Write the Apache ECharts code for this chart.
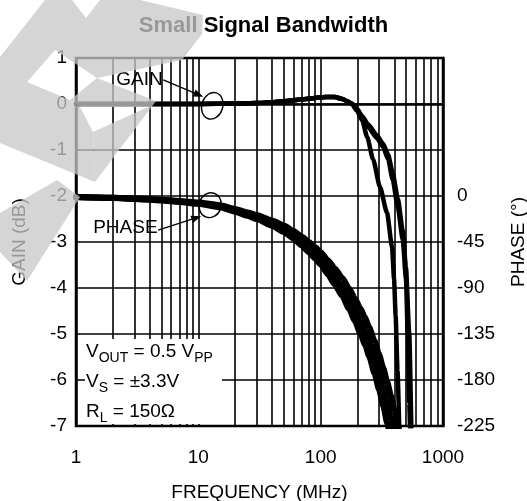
<!DOCTYPE html>
<html><head><meta charset="utf-8">
<script src="https://cdn.jsdelivr.net/npm/echarts@6/dist/echarts.min.js"></script>
<style>html,body{margin:0;padding:0;background:#fff}#c{width:527px;height:501px}</style>
</head><body><div id="c"></div>
<script>
// ---- data ----
const xTickLabels = ['1', '10', '100', '1000'];
const minorFreqs = [2,3,4,5,6,7,8,9,20,30,40,50,60,70,80,90,200,300,400,500,600,700,800,900];
const gainAFreqs = [1,2,5,10,20,30,40,50,70,90,110,130,150,165,180,198,218,240,268,305,349,383,398,410,425,440];
const gainA      = [0,0,0,0,0.01,0.02,0.04,0.06,0.1,0.13,0.15,0.15,0.11,0.06,0,-0.15,-0.35,-0.72,-1.2,-1.8,-2.37,-3.1,-3.8,-4.6,-5.8,-7.2];
const gainBFreqs = [1,2,5,10,20,30,40,50,70,90,110,130,150,165,180,198,218,244,288,323,356,388,427,469,498,515,530,545];
const gainB      = [0,0,0,0,0.01,0.02,0.04,0.06,0.1,0.13,0.15,0.15,0.11,0.06,0,-0.13,-0.3,-0.5,-0.74,-0.93,-1.2,-1.65,-2.24,-2.96,-3.8,-5.0,-6.5,-7.8];
const gainCFreqs = [1,2,5,10,20,30,40,50,70,90,110,130,150,165,180,198,218,244,288,323,356,388,427,469,498,530,555,580];
const gainC      = [0,0,0,0,0.01,0.02,0.04,0.06,0.1,0.13,0.15,0.15,0.11,0.06,0.01,-0.1,-0.26,-0.44,-0.68,-0.86,-1.1,-1.5,-2.05,-2.75,-3.55,-5.0,-7.2,-9];
const phaseFreqs = [1,2,3,5,7,10,15,20,25,30,40,50,60,70,80,90,100,115,130,150,170,190,210,230,250,275,300,325,350,375,400,425,450,475,500];
const phaseHi  = [-1,-1.6,-2.3,-3.6,-4.8,-6.3,-9,-12.6,-15.8,-18.5,-23.9,-28.8,-34.2,-39.6,-45,-50,-55,-63,-70.6,-80,-90,-100,-109.4,-118.8,-128.7,-141.7,-154.8,-168.3,-181.8,-195.3,-208.8,-222.3,-235.8,-249.3,-262.8];
const phaseMid = [-1,-1.8,-2.6,-4,-5.3,-7,-10,-14,-17.5,-20.5,-26.5,-32,-38,-44,-50,-55.5,-61,-70,-78.5,-89,-100,-111,-121.5,-132,-143,-157.5,-172,-187,-202,-217,-232,-247,-262,-277,-292];
const phaseLo  = [-1,-2,-2.9,-4.4,-5.8,-7.7,-11,-15.4,-19.3,-22.6,-29.2,-35.2,-41.8,-48.4,-55,-61,-67,-77,-86.4,-98,-110,-122,-133.7,-145.2,-157.3,-173.3,-189.2,-205.7,-222.2,-238.7,-255.2,-271.7,-288.2,-304.7,-321.2];
const gainMarkerAt = [13, -0.04];
const phaseMarkerAt = [12.5, -2.2];
const conditionLines = [
  [['V', false], ['OUT', true], [' = 0.5 V', false], ['PP', true]],
  [['V', false], ['S', true], [' = \u00b13.3V', false]],
  [['R', false], ['L', true], [' = 150\u03a9', false]]
];

// ---- chart ----
const FONT = '"Liberation Sans", Arial, Helvetica, sans-serif';
const zip = (xs, ys) => xs.map((x, i) => [x, ys[i]]);
const curve = (name, xs, ys, yAxisIndex, w) => ({
  name, type: 'line', yAxisIndex, data: zip(xs, ys), showSymbol: false, symbol: 'none',
  smooth: 0.2, smoothMonotone: 'x', clip: true, z: 3, silent: true,
  lineStyle: { color: '#000', width: w, cap: 'round', join: 'round' }, animation: false
});
const chart = echarts.init(document.getElementById('c'), null, { renderer: 'canvas' });
const labelStyle = { fontFamily: FONT, fontSize: 19, color: '#000' };
chart.setOption({
  animation: false,
  backgroundColor: '#fff',
  title: { text: 'Small Signal Bandwidth', left: 'center', top: 15, padding: 0,
    textStyle: { fontFamily: FONT, fontSize: 22, fontWeight: 'bold', color: '#000' } },
  grid: { left: 76, right: 84, top: 58, bottom: 75, outerBoundsMode: 'none', containLabel: false,
    show: true, borderColor: '#000', borderWidth: 2.5, backgroundColor: 'transparent' },
  xAxis: {
    type: 'log', logBase: 10, min: 1, max: 1000,
    name: 'FREQUENCY (MHz)', nameLocation: 'middle', nameGap: 57, nameTextStyle: labelStyle,
    axisLine: { lineStyle: { color: '#000', width: 2.5 } }, axisTick: { show: false },
    axisLabel: Object.assign({ margin: 22, formatter: v => xTickLabels[Math.round(Math.log10(v))] || '' }, labelStyle),
    splitLine: { show: true, lineStyle: { color: '#000', width: 1.6 } }
  },
  yAxis: [
    { type: 'value', min: -7, max: 1, interval: 1, position: 'left',
      name: 'GAIN (dB)', nameLocation: 'middle', nameGap: 47, nameRotate: 90, nameTextStyle: labelStyle,
      axisLine: { show: true, lineStyle: { color: '#000', width: 2.5 } }, axisTick: { show: false },
      axisLabel: Object.assign({ margin: 9 }, labelStyle),
      splitLine: { show: true, lineStyle: { color: '#000', width: 1.6 } } },
    { type: 'value', min: -225, max: 135, interval: 45, position: 'right',
      name: 'PHASE (\u00b0)', nameLocation: 'middle', nameGap: 66, nameRotate: 90, nameTextStyle: labelStyle,
      axisLine: { show: true, lineStyle: { color: '#000', width: 2.5 } }, axisTick: { show: false },
      axisLabel: Object.assign({ margin: 14, formatter: v => (v <= 0 ? String(v) : '') }, labelStyle),
      splitLine: { show: false } }
  ],
  series: [
    { type: 'line', data: [], silent: true, z: 1,
      markLine: { silent: true, symbol: ['none', 'none'], label: { show: false }, animation: false,
        emphasis: { disabled: true },
        lineStyle: { color: '#000', width: 1.6, type: 'solid' },
        data: minorFreqs.map(f => ({ xAxis: f })) } },
    curve('gainA', gainAFreqs, gainA, 0, 4.5),
    curve('gainB', gainBFreqs, gainB, 0, 4.5),
    curve('gainC', gainCFreqs, gainC, 0, 4.5),
    curve('phaseHi', phaseFreqs, phaseHi, 1, 6),
    curve('phaseMid', phaseFreqs, phaseMid, 1, 6),
    curve('phaseLo', phaseFreqs, phaseLo, 1, 6)
  ]
});

// ---- annotations ----
const px = p => chart.convertToPixel({ xAxisIndex: 0, yAxisIndex: 0 }, p);
const ctx = document.createElement('canvas').getContext('2d');
const tw = (t, s) => { ctx.font = s + 'px ' + FONT; return ctx.measureText(t).width; };
const txt = (t, x, y, s, extra) => Object.assign({ type: 'text', x, y, z: 20, silent: true,
  style: { text: t, font: s + 'px ' + FONT, fill: '#000', textAlign: 'left', align: 'left',
    textVerticalAlign: 'middle', verticalAlign: 'middle' } }, extra || {});
function arrow(x1, y1, x2, y2) {
  const dx = x2 - x1, dy = y2 - y1, L = Math.hypot(dx, dy), ux = dx / L, uy = dy / L;
  const hl = 10, hw = 3.8, bx = x2 - ux * hl, by = y2 - uy * hl;
  return [
    { type: 'line', z: 20, silent: true, shape: { x1, y1, x2: bx + ux * 2, y2: by + uy * 2 }, style: { stroke: '#000', lineWidth: 1.3 } },
    { type: 'polygon', z: 20, silent: true, shape: { points: [[x2, y2], [bx - uy * hw, by + ux * hw], [bx + uy * hw, by - ux * hw]] }, style: { fill: '#000' } }
  ];
}
const ge = px(gainMarkerAt), pe = px(phaseMarkerAt);
const els = [];
els.push({ type: 'ellipse', z: 20, silent: true, x: ge[0], y: ge[1], rotation: -0.3, shape: { cx: 0, cy: 0, rx: 10.5, ry: 13.5 }, style: { fill: 'none', stroke: '#000', lineWidth: 1.4 } });
els.push({ type: 'ellipse', z: 20, silent: true, x: pe[0], y: pe[1], rotation: -0.3, shape: { cx: 0, cy: 0, rx: 11, ry: 12.5 }, style: { fill: 'none', stroke: '#000', lineWidth: 1.4 } });
els.push(txt('GAIN', ge[0] - 96, ge[1] - 26, 19));
els.push(...arrow(ge[0] - 49, ge[1] - 26, ge[0] - 9, ge[1] - 9));
els.push(txt('PHASE', pe[0] - 117, pe[1] + 23, 19));
els.push(...arrow(pe[0] - 52, pe[1] + 25, pe[0] - 9, pe[1] + 11));
// conditions box
els.push({ type: 'rect', z: 10, silent: true, shape: { x: 85, y: 339, width: 137, height: 85 }, style: { fill: '#fff' } });
conditionLines.forEach((parts, i) => {
  let cx = 86; const cy = 352 + i * 30;
  parts.forEach(([t, sub]) => {
    const s = sub ? 14 : 19;
    els.push(txt(t, cx, sub ? cy + 6 : cy, s));
    cx += tw(t, s);
  });
});
// watermark
const wm = 'rgba(200,200,200,0.76)';
const wmPolys = [
  [[45,0],[72,0],[86,18],[100,0],[140,0],[203,15],[202,34],[182,60],[97,78],[55,50],[27,82],[0,123],[0,57]],
  [[70,100],[97,78],[156,101],[95,182],[93,132],[148,107],[80,107]],
  [[0,123],[27,82],[70,100],[80,107],[93,132],[95,182],[0,143]],
  [[57,180],[80,197],[27,281],[0,252],[0,213]]
];
wmPolys.forEach(p => els.push({ type: 'polygon', z: 100, silent: true, shape: { points: p }, style: { fill: wm } }));
chart.setOption({ graphic: { elements: els } });
</script></body></html>
